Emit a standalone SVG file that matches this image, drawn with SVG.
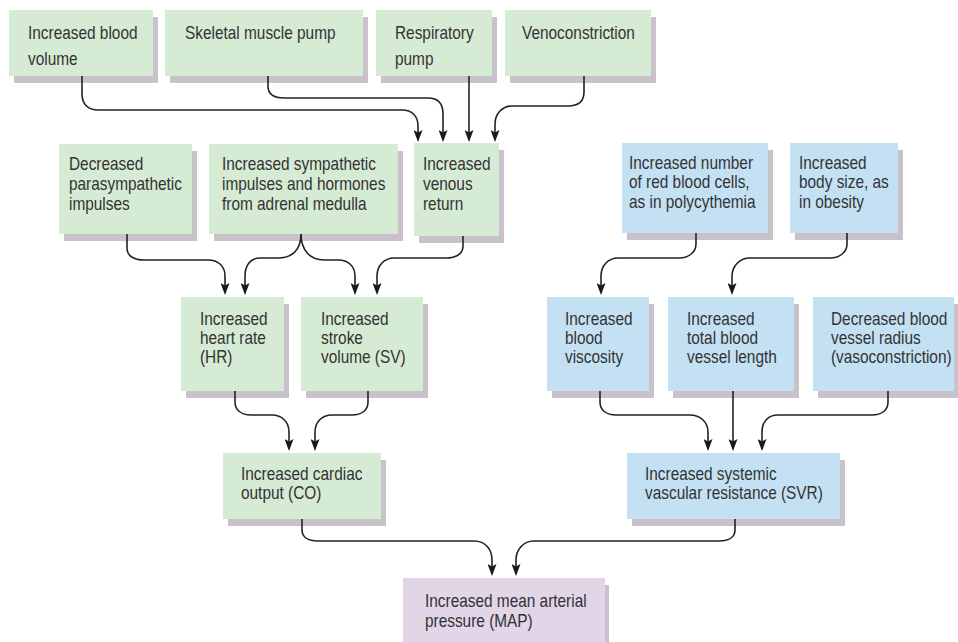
<svg xmlns="http://www.w3.org/2000/svg" width="958" height="642" viewBox="0 0 958 642">
<style>
.sh{fill:#c9c2ca}
.g{fill:#d6ebd4}
.b{fill:#c4e1f3}
.p{fill:#e2d5e8}
.t{font-family:"Liberation Sans",Arial,sans-serif;font-size:17.5px;fill:#333333}
.c{fill:none;stroke:#222222;stroke-width:1.6;marker-end:url(#ah)}
</style>
<defs>
<marker id="ah" markerUnits="userSpaceOnUse" viewBox="0 0 12 9" markerWidth="12" markerHeight="9" refX="10" refY="4.5" orient="auto">
<path d="M0,0 L12,4.5 L0,9 L2.5,4.5 z" fill="#1a1a1a"/>
</marker>
</defs>
<rect width="958" height="642" fill="#ffffff"/>

<g id="n1"><rect class="sh" x="14" y="17" width="144" height="66"/><rect class="g" x="9" y="10" width="144" height="66"/>
<text class="t" transform="translate(28,39) scale(0.88,1)"><tspan x="0">Increased blood</tspan><tspan x="0" dy="26">volume</tspan></text></g>
<g id="n2"><rect class="sh" x="170" y="17" width="198" height="66"/><rect class="g" x="165" y="10" width="198" height="66"/>
<text class="t" transform="translate(185,39) scale(0.88,1)"><tspan x="0">Skeletal muscle pump</tspan></text></g>
<g id="n3"><rect class="sh" x="381" y="17" width="116" height="66"/><rect class="g" x="376" y="10" width="116" height="66"/>
<text class="t" transform="translate(395,39) scale(0.88,1)"><tspan x="0">Respiratory</tspan><tspan x="0" dy="26">pump</tspan></text></g>
<g id="n4"><rect class="sh" x="510" y="17" width="146" height="66"/><rect class="g" x="505" y="10" width="146" height="66"/>
<text class="t" transform="translate(522,39) scale(0.88,1)"><tspan x="0">Venoconstriction</tspan></text></g>

<g id="n5"><rect class="sh" x="64" y="151" width="133" height="90"/><rect class="g" x="59" y="144" width="133" height="90"/>
<text class="t" transform="translate(69,170) scale(0.88,1)"><tspan x="0">Decreased</tspan><tspan x="0" dy="20">parasympathetic</tspan><tspan x="0" dy="20">impulses</tspan></text></g>
<g id="n6"><rect class="sh" x="214" y="151" width="189" height="90"/><rect class="g" x="209" y="144" width="189" height="90"/>
<text class="t" transform="translate(222,170) scale(0.88,1)"><tspan x="0">Increased sympathetic</tspan><tspan x="0" dy="20">impulses and hormones</tspan><tspan x="0" dy="20">from adrenal medulla</tspan></text></g>
<g id="n7"><rect class="sh" x="419" y="150" width="85" height="93"/><rect class="g" x="414" y="143" width="85" height="93"/>
<text class="t" transform="translate(423,170) scale(0.88,1)"><tspan x="0">Increased</tspan><tspan x="0" dy="20">venous</tspan><tspan x="0" dy="20">return</tspan></text></g>
<g id="n8"><rect class="sh" x="627" y="150" width="146" height="90"/><rect class="b" x="622" y="143" width="146" height="90"/>
<text class="t" transform="translate(629,169) scale(0.88,1)"><tspan x="0">Increased number</tspan><tspan x="0" dy="19.5">of red blood cells,</tspan><tspan x="0" dy="19.5">as in polycythemia</tspan></text></g>
<g id="n9"><rect class="sh" x="795" y="150" width="108" height="90"/><rect class="b" x="790" y="143" width="108" height="90"/>
<text class="t" transform="translate(799,169) scale(0.88,1)"><tspan x="0">Increased</tspan><tspan x="0" dy="19.5">body size, as</tspan><tspan x="0" dy="19.5">in obesity</tspan></text></g>

<g id="n10"><rect class="sh" x="186" y="304" width="103" height="94"/><rect class="g" x="181" y="297" width="103" height="94"/>
<text class="t" transform="translate(200,325) scale(0.88,1)"><tspan x="0">Increased</tspan><tspan x="0" dy="19">heart rate</tspan><tspan x="0" dy="19">(HR)</tspan></text></g>
<g id="n11"><rect class="sh" x="306" y="304" width="122" height="94"/><rect class="g" x="301" y="297" width="122" height="94"/>
<text class="t" transform="translate(321,325) scale(0.88,1)"><tspan x="0">Increased</tspan><tspan x="0" dy="19">stroke</tspan><tspan x="0" dy="19">volume (SV)</tspan></text></g>
<g id="n12"><rect class="sh" x="552" y="304" width="102" height="94"/><rect class="b" x="547" y="297" width="102" height="94"/>
<text class="t" transform="translate(565,325) scale(0.88,1)"><tspan x="0">Increased</tspan><tspan x="0" dy="19">blood</tspan><tspan x="0" dy="19">viscosity</tspan></text></g>
<g id="n13"><rect class="sh" x="673" y="304" width="126" height="94"/><rect class="b" x="668" y="297" width="126" height="94"/>
<text class="t" transform="translate(687,325) scale(0.88,1)"><tspan x="0">Increased</tspan><tspan x="0" dy="19">total blood</tspan><tspan x="0" dy="19">vessel length</tspan></text></g>
<g id="n14"><rect class="sh" x="818" y="304" width="140" height="94"/><rect class="b" x="813" y="297" width="141" height="94"/>
<text class="t" transform="translate(831,325) scale(0.88,1)"><tspan x="0">Decreased blood</tspan><tspan x="0" dy="19">vessel radius</tspan><tspan x="0" dy="19">(vasoconstriction)</tspan></text></g>

<g id="n15"><rect class="sh" x="228" y="460" width="158" height="66"/><rect class="g" x="223" y="453" width="158" height="66"/>
<text class="t" transform="translate(241,480) scale(0.88,1)"><tspan x="0">Increased cardiac</tspan><tspan x="0" dy="19.5">output (CO)</tspan></text></g>
<g id="n16"><rect class="sh" x="632" y="460" width="213" height="66"/><rect class="b" x="627" y="453" width="213" height="66"/>
<text class="t" transform="translate(645,480) scale(0.88,1)"><tspan x="0">Increased systemic</tspan><tspan x="0" dy="19.5">vascular resistance (SVR)</tspan></text></g>

<g id="n17"><rect class="sh" x="407" y="585" width="202" height="70"/><rect class="p" x="403" y="578" width="202" height="70"/>
<text class="t" transform="translate(425,607) scale(0.88,1)"><tspan x="0">Increased mean arterial</tspan><tspan x="0" dy="20">pressure (MAP)</tspan></text></g>

<g id="connectors">
<path class="c" d="M82,76 V94 C82,104 88,110 98,110 H402 C412,110 418,116 418,126 V140"/>
<path class="c" d="M268,76 V86 C268,94 274,98 284,98 H428 C438,98 443,104 443,114 V140"/>
<path class="c" d="M469,76 V140"/>
<path class="c" d="M584,76 V92 C584,102 578,106 568,106 H512 C502,106 495,114 495,124 V140"/>
<path class="c" d="M127,234 V248 C127,256 134,260 144,260 H208 C218,260 225,266 225,276 V293"/>
<path class="c" d="M301,234 C301,250 292,258 278,258 H260 C250,258 245,266 245,276 V293"/>
<path class="c" d="M301,234 C301,250 310,260 324,260 H338 C348,260 355,266 355,276 V293"/>
<path class="c" d="M463,236 V246 C463,254 456,258 446,258 H394 C384,258 377,266 377,276 V293"/>
<path class="c" d="M696,233 V244 C696,252 689,258 679,258 H618 C608,258 601,266 601,276 V293"/>
<path class="c" d="M847,233 V244 C847,252 840,258 830,258 H750 C740,258 732,266 732,276 V293"/>
<path class="c" d="M235,391 V402 C235,410 241,415 251,415 H272 C282,415 289,422 289,432 V449"/>
<path class="c" d="M368,391 V402 C368,410 362,415 352,415 H332 C322,415 315,422 315,432 V449"/>
<path class="c" d="M600,391 V402 C600,410 606,415 616,415 H690 C700,415 708,422 708,432 V449"/>
<path class="c" d="M733,391 V449"/>
<path class="c" d="M888,391 V402 C888,410 882,415 872,415 H778 C768,415 762,422 762,432 V449"/>
<path class="c" d="M302,519 V530 C302,537 308,541 318,541 H474 C486,541 492,550 492,560 V574"/>
<path class="c" d="M735,519 V530 C735,537 729,541 719,541 H534 C523,541 516,550 516,560 V574"/>
</g>
</svg>
